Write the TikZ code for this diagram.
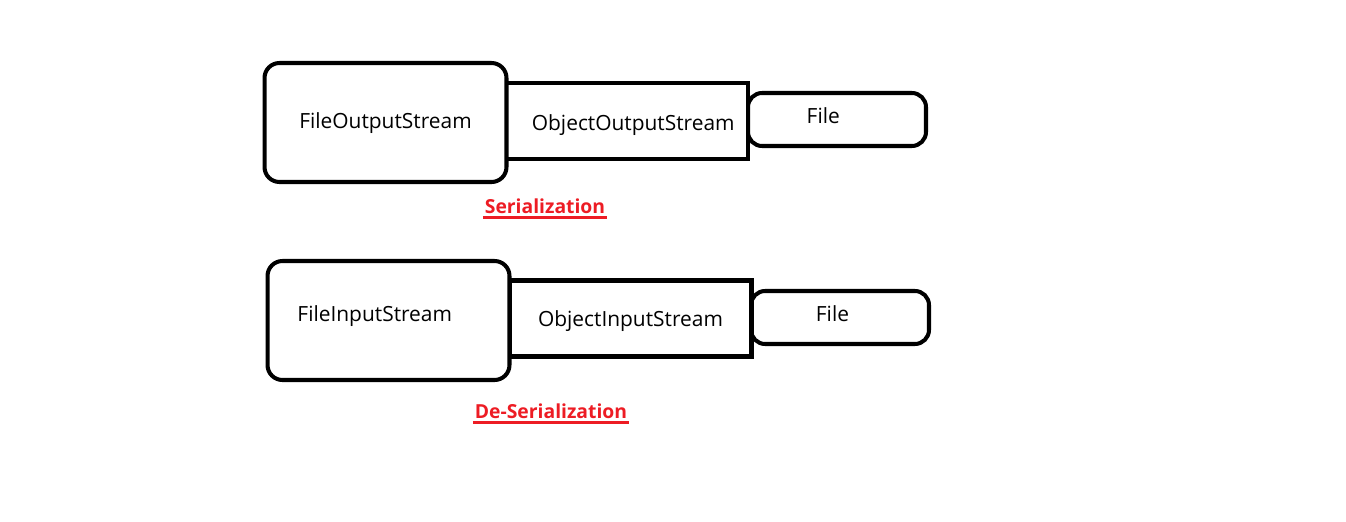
\documentclass[tikz,border=0pt]{standalone}
\usepackage{fontspec}
\setmainfont{Open Sans}
\usetikzlibrary{positioning}
\definecolor{serred}{HTML}{ED1C24}

\begin{document}
\begin{tikzpicture}[x=0.02cm, y=-0.02cm,
        txt/.style={font=\fontsize{11.9}{14}\selectfont, text height=0.75em, text depth=0.25em},
        big/.style={draw, txt, line width=2.3pt, rounded corners=8.5pt, minimum width=4.84cm, minimum height=2.38cm},
        mid/.style={draw, txt, line width=2.3pt, minimum width=4.84cm, minimum height=1.52cm},
        tip/.style={draw, txt, line width=2.3pt, rounded corners=8pt, minimum width=3.56cm, minimum height=1.06cm},
        title/.style={text=serred, font=\fontsize{11}{13}\selectfont\bfseries, inner sep=1pt},
        uline/.style={draw=serred, line width=1.4pt}]
      \useasboundingbox (0,0) rectangle (1346,521);
      % serialization
      \node[tip] (sfile) at (837,119.5) {\hspace*{-0.55cm}\raisebox{0.01cm}{File}};
      \node[mid, fill=white] (oos) at (627,121) {\hspace*{0.25cm}\raisebox{-0.1cm}{ObjectOutputStream}};
      \node[big, fill=white] (fos) at (385.5,122.5) {\raisebox{-0.04cm}{FileOutputStream}};
      \node[title] (ser) at (545,206) {Serialization};
      \draw[uline] ([yshift=-1pt]ser.south west) -- ([yshift=-1pt]ser.south east);
      % de-serialization
      \node[tip] (dfile) at (840,317.5) {\hspace*{-0.3cm}File};
      \node[mid, fill=white] (ois) at (630.5,318.5) {\raisebox{-0.08cm}{ObjectInputStream}};
      \node[big, fill=white] (fis) at (388.5,320.5) {\raisebox{0.06cm}{FileInputStream}\hspace*{0.55cm}};
      \node[title] (deser) at (551,411) {De-Serialization};
      \draw[uline] ([yshift=-1pt]deser.south west) -- ([yshift=-1pt]deser.south east);
      \end{tikzpicture}
\end{document}
